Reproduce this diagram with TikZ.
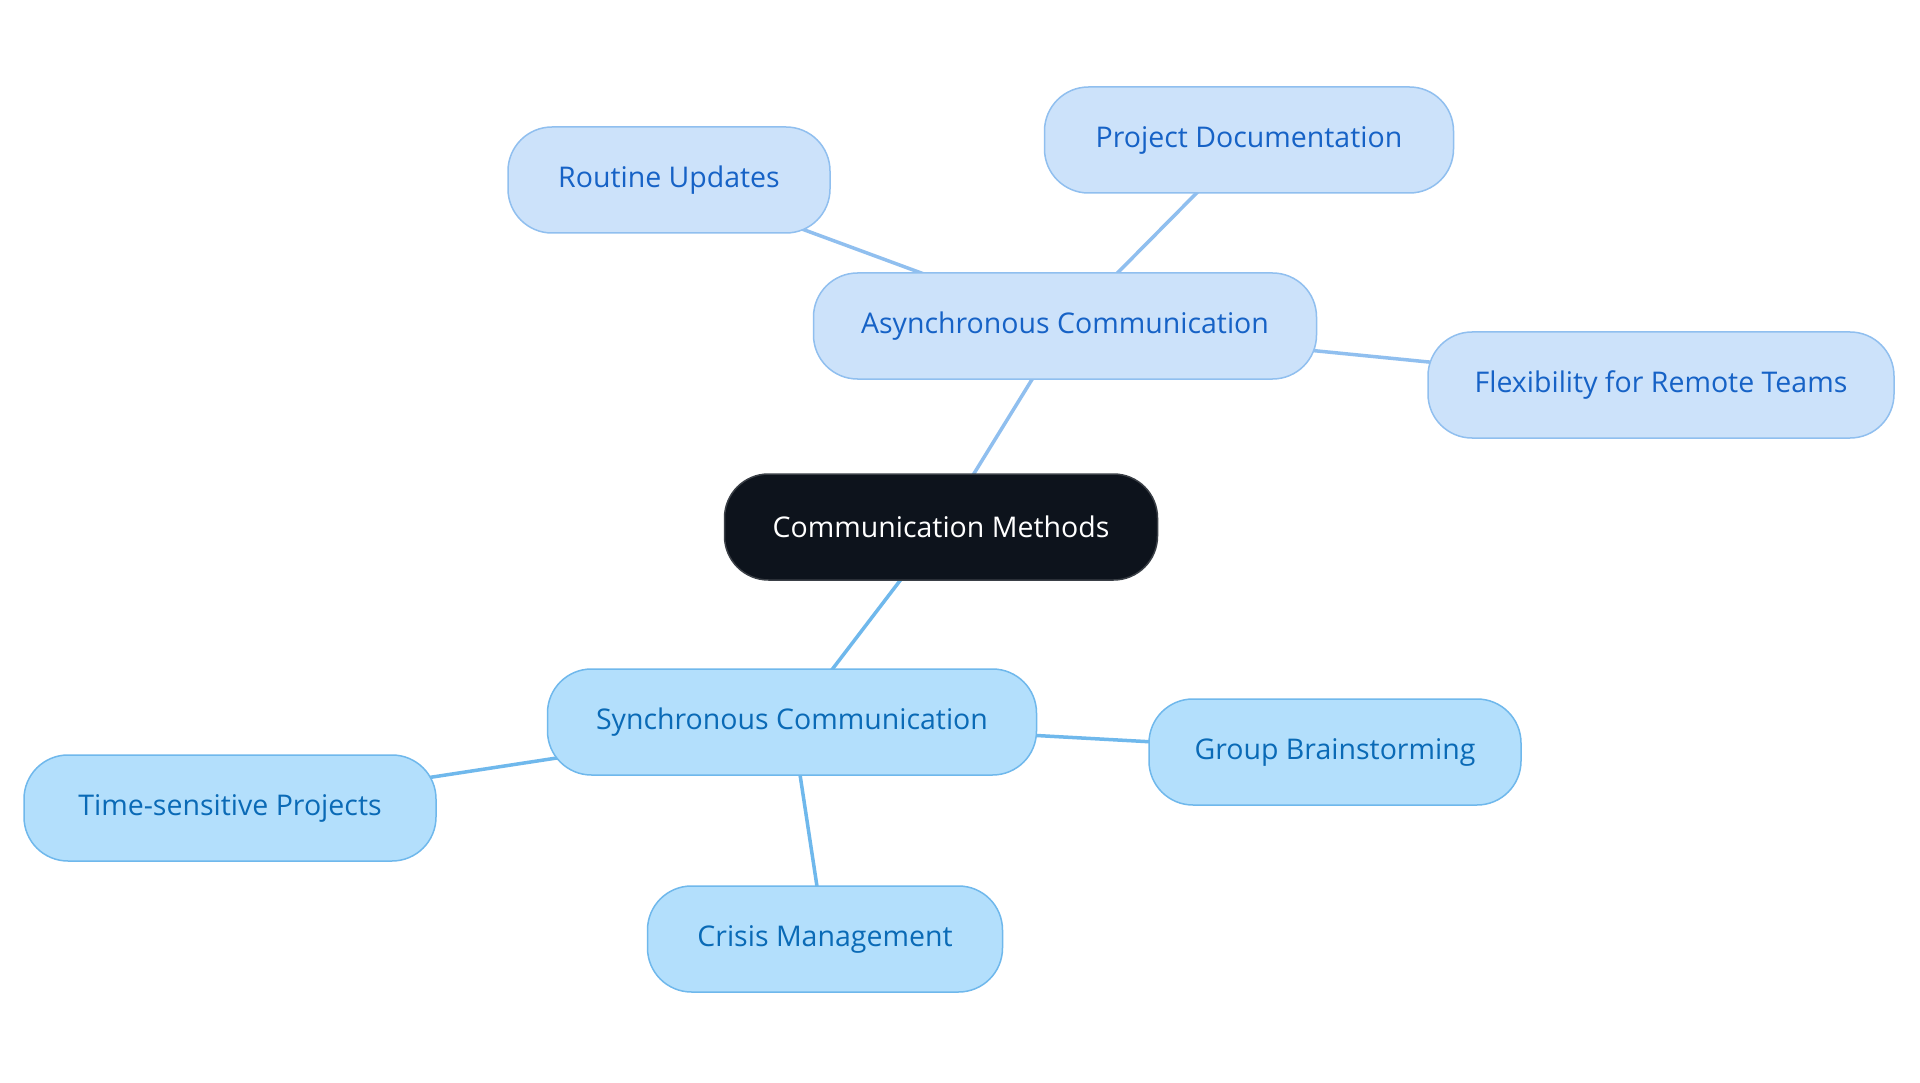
\documentclass[tikz,border=0pt]{standalone}
\usepackage{fontspec}
\setmainfont{Open Sans}
\usetikzlibrary{backgrounds}
\definecolor{rootfill}{HTML}{0D131C}
\definecolor{rootline}{HTML}{3A3F46}
\definecolor{afill}{HTML}{CCE2FA}
\definecolor{aline}{HTML}{90BFEF}
\definecolor{atext}{HTML}{1662C6}
\definecolor{sfill}{HTML}{B3DFFC}
\definecolor{sline}{HTML}{6FB8EC}
\definecolor{stext}{HTML}{0A6AB6}
\tikzset{
  base/.style={rectangle, rounded corners=44pt, minimum height=106pt, line width=1.5pt, font=\fontsize{28.5}{34}\selectfont, inner sep=0pt},
  rootnode/.style={base, fill=rootfill, draw=rootline, text=white},
  anode/.style={base, fill=afill, draw=aline, text=atext},
  snode/.style={base, fill=sfill, draw=sline, text=stext},
  aedge/.style={draw=aline, line width=3.5pt},
  sedge/.style={draw=sline, line width=3.5pt}
}
\begin{document}
\begin{tikzpicture}[x=1pt,y=-1pt]
\useasboundingbox (0,0) rectangle (1920,1083);
\node[rootnode, minimum width=433pt] (root) at (941,527) {Communication Methods};
\node[anode, minimum width=503pt] (async) at (1065,326) {Asynchronous Communication};
\node[anode, minimum width=322pt] (routine) at (669,180) {Routine Updates};
\node[anode, minimum width=409pt] (project) at (1249,140) {Project Documentation};
\node[anode, minimum width=466pt] (flex) at (1661,385) {Flexibility for Remote Teams};
\node[snode, minimum width=489pt] (sync) at (792,722) {Synchronous Communication};
\node[snode, minimum width=372pt] (group) at (1335,752) {Group Brainstorming};
\node[snode, minimum width=412pt] (time) at (230,808) {Time-sensitive Projects};
\node[snode, minimum width=355pt] (crisis) at (825,939) {Crisis Management};
\begin{scope}[on background layer]
\fill[white] (0,0) rectangle (1920,1083);
\draw[aedge] (root.center) -- (async.center);
\draw[aedge] (async.center) -- (routine.center);
\draw[aedge] (async.center) -- (project.center);
\draw[aedge] (async.center) -- (flex.center);
\draw[sedge] (root.center) -- (sync.center);
\draw[sedge] (sync.center) -- (group.center);
\draw[sedge] (sync.center) -- (time.center);
\draw[sedge] (sync.center) -- (crisis.center);
\end{scope}
\end{tikzpicture}
\end{document}
